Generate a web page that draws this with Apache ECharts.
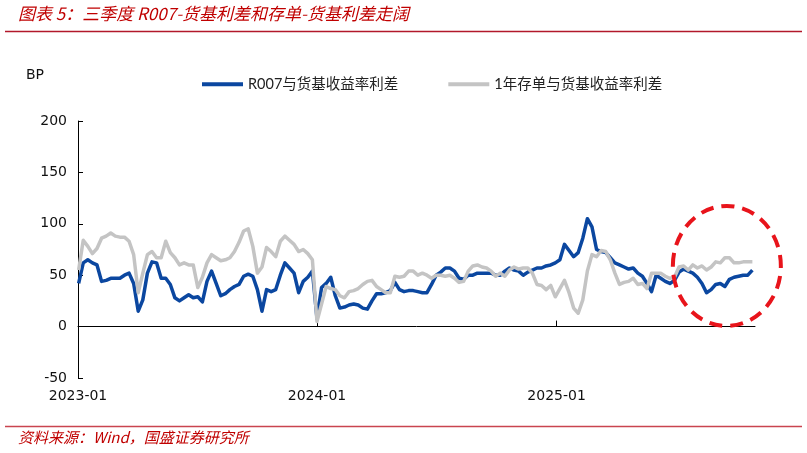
<!DOCTYPE html>
<html>
<head>
<meta charset="utf-8">
<script src="https://cdn.jsdelivr.net/npm/echarts@6/dist/echarts.min.js"></script>
<style>
html,body{margin:0;padding:0;background:#fff;}
#chart{width:807px;height:453px;}
</style>
</head>
<body>
<div id="chart"></div>
<script>
// ---- data ----
const titleText = '图表 5：三季度 R007-货基利差和存单-货基利差走阔';
const sourceText = '资料来源：Wind，国盛证券研究所';
const unitText = 'BP';
const seriesNames = ['R007与货基收益率利差', '1年存单与货基收益率利差'];
const startDate = [2023, 0, 2];   // first weekly observation
const stepDays = 7;
const xTickLabels = ['2023-01', '2024-01', '2025-01'];
const yTicks = [-50, 0, 50, 100, 150, 200];

const r007Spread = [
  42,62,65,62,60,44,45,47,47,47,50,52,42,15,26,52,63,62,47,47,
  41,28,25,28,31,28,29,24,44,54,42,30,32,36,39,41,49,51,49,36,
  15,36,34,36,50,62,57,52,33,44,48,54,8,38,42,48,30,18,19,21,
  22,21,18,17,25,32,32,33,35,43,36,34,35,35,34,33,33,41,50,53,
  57,57,54,47,46,50,50,52,52,52,52,50,50,54,57,55,54,50,53,55,
  57,57,59,60,62,65,80,74,68,72,86,105,97,75,73,72,67,62,60,58,
  56,57,52,49,42,34,50,47,44,42,45,53,56,54,52,48,42,33,36,41,
  42,39,46,48,49,50,50,55
];
const cdSpread = [
  55,84,78,71,76,86,88,91,88,87,87,83,70,33,52,70,73,67,67,83,
  72,67,60,62,60,60,38,48,62,70,67,64,65,67,73,82,93,95,78,52,
  58,77,73,68,83,88,84,80,73,75,71,65,5,22,39,37,36,30,28,34,
  35,37,41,44,45,39,36,33,33,49,48,49,54,54,50,52,50,47,50,50,
  49,50,47,43,44,54,59,60,58,57,54,49,52,49,55,58,56,57,57,52,
  41,40,36,40,29,37,45,33,18,13,26,54,70,68,74,73,65,52,41,43,
  44,47,41,42,37,52,52,52,49,47,48,58,59,55,60,57,59,55,58,63,
  62,67,67,62,62,63,63,63
];
// annotation (dashed circle) anchored in data space
const circleCenter = [[2025, 8, 18], 60];

// ---- build ----
function ts(y, m, d) { return new Date(y, m, d).getTime(); }
const dates = r007Spread.map((_, i) => ts(startDate[0], startDate[1], startDate[2] + stepDays * i));
const tickValues = xTickLabels.map(s => { const p = s.split('-'); return ts(+p[0], +p[1] - 1, 1); });
const xMin = ts(2023, 0, 1);
const xMax = ts(2025, 9, 31);

const chart = echarts.init(document.getElementById('chart'), null, {renderer: 'canvas'});
const axisFont = '"DejaVu Sans", Verdana, sans-serif';
const cjkFont = 'Lato, "Noto Sans CJK SC", sans-serif';

chart.setOption({
  animation: false,
  backgroundColor: '#fff',
  grid: {left: 78, right: 52, top: 121, bottom: 75, containLabel: false},
  legend: {
    left: 197, top: 72,
    itemWidth: 41, itemHeight: 4, itemGap: 50,
    icon: 'rect',
    textStyle: {fontFamily: cjkFont, fontSize: 14.5, color: '#222'},
    data: seriesNames
  },
  xAxis: [
    {
      type: 'value', min: xMin, max: xMax, position: 'bottom',
      axisLine: {show: true, onZero: true, lineStyle: {color: '#000', width: 1}},
      axisTick: {show: true, inside: true, length: 6, customValues: tickValues, lineStyle: {color: '#000'}},
      axisLabel: {show: false},
      splitLine: {show: false}
    },
    {
      type: 'value', min: xMin, max: xMax, position: 'bottom',
      axisLine: {show: false, onZero: false},
      axisTick: {show: false},
      axisLabel: {
        show: true, margin: 11, customValues: tickValues,
        fontFamily: axisFont, fontSize: 14, color: '#111',
        formatter: function (v) {
          const idx = tickValues.indexOf(v);
          return idx >= 0 ? xTickLabels[idx] : '';
        }
      },
      splitLine: {show: false}
    }
  ],
  yAxis: {
    type: 'value', min: yTicks[0], max: yTicks[yTicks.length - 1], interval: 50,
    axisLine: {show: true, lineStyle: {color: '#000', width: 1}},
    axisTick: {show: true, inside: true, length: 5, lineStyle: {color: '#000'}},
    axisLabel: {fontFamily: axisFont, fontSize: 14, color: '#111', margin: 11},
    splitLine: {show: false}
  },
  series: [
    {
      name: seriesNames[0], type: 'line', xAxisIndex: 0,
      data: dates.map((d, i) => [d, r007Spread[i]]),
      showSymbol: false, symbol: 'none',
      lineStyle: {color: '#0b47a0', width: 3.5, join: 'round'},
      itemStyle: {color: '#0b47a0'}, z: 2
    },
    {
      name: seriesNames[1], type: 'line', xAxisIndex: 0,
      data: dates.map((d, i) => [d, cdSpread[i]]),
      showSymbol: false, symbol: 'none',
      lineStyle: {color: '#c4c4c4', width: 3.5, join: 'round'},
      itemStyle: {color: '#c4c4c4'}, z: 3
    }
  ]
});

const cc = circleCenter[0];
const c = chart.convertToPixel({xAxisIndex: 0, yAxisIndex: 0}, [ts(cc[0], cc[1], cc[2]), circleCenter[1]]);

chart.setOption({
  graphic: [
    {type: 'text', left: 18, top: 5, z: 10,
      style: {text: titleText, font: 'italic 17px "Noto Sans CJK SC", sans-serif', fill: '#c00000'}},
    {type: 'line', z: 10, shape: {x1: 5, y1: 31.5, x2: 802, y2: 31.5},
      style: {stroke: '#b2182b', lineWidth: 1.5}},
    {type: 'text', left: 26, top: 68, z: 10,
      style: {text: unitText, font: '14px "DejaVu Sans", Verdana, sans-serif', fill: '#111'}},
    {type: 'line', z: 10, shape: {x1: 5, y1: 426.5, x2: 802, y2: 426.5},
      style: {stroke: '#c9444f', lineWidth: 1.5}},
    {type: 'text', left: 18, top: 430, z: 10,
      style: {text: sourceText, font: 'italic 15px "Noto Sans CJK SC", sans-serif', fill: '#c00000'}},
    {type: 'ellipse', z: 20, shape: {cx: c[0], cy: c[1] + 1, rx: 54, ry: 60},
      style: {fill: 'none', stroke: '#e8141b', lineWidth: 4, lineDash: [13, 8]}}
  ]
});
</script>
</body>
</html>
